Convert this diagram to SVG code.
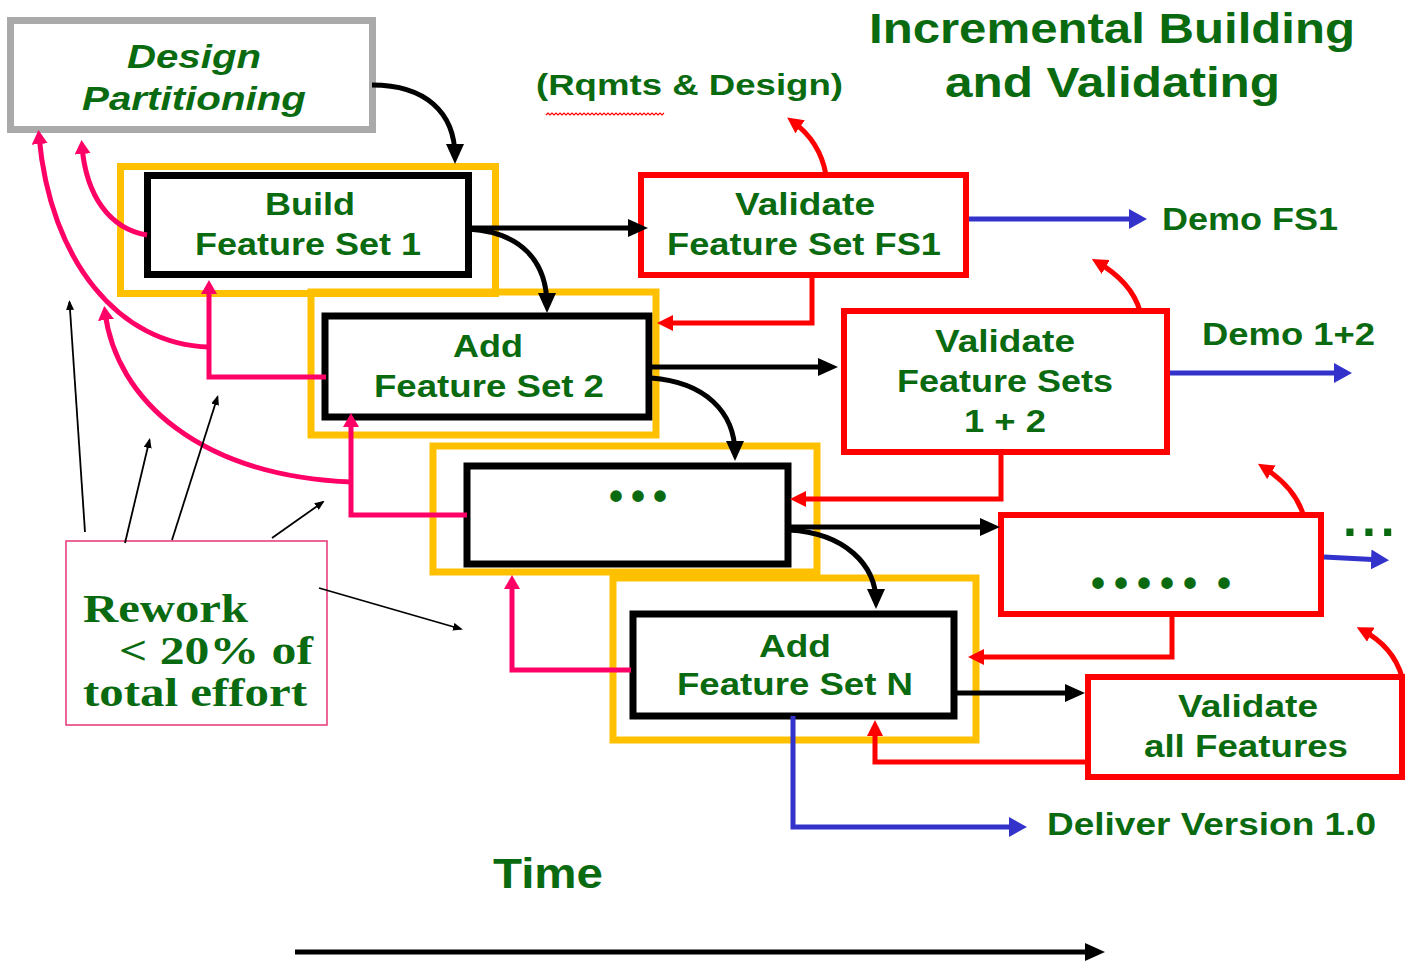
<svg xmlns="http://www.w3.org/2000/svg" width="1405" height="963" viewBox="0 0 1405 963">
  <defs>
    <style>
      .lbl { font-family: "Liberation Sans", Arial, sans-serif; font-weight: bold; fill: #0a6a10; }
      .serif { font-family: "Liberation Serif", "Times New Roman", serif; font-weight: bold; fill: #0a6a10; }
      .build { fill: #fff; stroke: #000; stroke-width: 7; }
      .frame { fill: none; stroke: #FFC000; stroke-width: 7; }
      .check { fill: #fff; stroke: #FF0000; stroke-width: 6; }
      .flow { fill: none; stroke: #000; stroke-width: 5; }
      .fix { fill: none; stroke: #FF0000; stroke-width: 5; }
      .out { fill: none; stroke: #3333CC; stroke-width: 5; }
      .rework { fill: none; stroke: #FF0066; stroke-width: 5; }
      .note { fill: none; stroke: #000; stroke-width: 1.8; }
    </style>
    <marker id="hBlack" markerUnits="userSpaceOnUse" markerWidth="20" markerHeight="18" refX="13" refY="9" orient="auto">
      <path d="M0,0 L20,9 L0,18 z" fill="#000"/>
    </marker>
    <marker id="hRed" markerUnits="userSpaceOnUse" markerWidth="16" markerHeight="16" refX="10" refY="8" orient="auto">
      <path d="M0,0 L16,8 L0,16 z" fill="#FF0000"/>
    </marker>
    <marker id="hBlue" markerUnits="userSpaceOnUse" markerWidth="18" markerHeight="20" refX="11" refY="10" orient="auto">
      <path d="M0,0 L18,10 L0,20 z" fill="#3333CC"/>
    </marker>
    <marker id="hPink" markerUnits="userSpaceOnUse" markerWidth="14" markerHeight="16" refX="8" refY="8" orient="auto">
      <path d="M0,0 L14,8 L0,16 z" fill="#FF0066"/>
    </marker>
    <marker id="hThin" markerUnits="userSpaceOnUse" markerWidth="10" markerHeight="8" refX="8" refY="4" orient="auto">
      <path d="M0,0 L10,4 L0,8 z" fill="#000"/>
    </marker>
  </defs>

  <rect width="1405" height="963" fill="#fff"/>

  <!-- headings -->
  <g id="title">
    <text class="lbl" x="869" y="43" font-size="43" textLength="486" lengthAdjust="spacingAndGlyphs">Incremental Building</text>
    <text class="lbl" x="945" y="97" font-size="43" textLength="335" lengthAdjust="spacingAndGlyphs">and Validating</text>
  </g>
  <g id="rqmts">
    <text class="lbl" x="536" y="95" font-size="29" textLength="307" lengthAdjust="spacingAndGlyphs">(Rqmts &amp; Design)</text>
    <path d="M546,115 l2,-2 l2,2 l2,-2 l2,2 l2,-2 l2,2 l2,-2 l2,2 l2,-2 l2,2 l2,-2 l2,2 l2,-2 l2,2 l2,-2 l2,2 l2,-2 l2,2 l2,-2 l2,2 l2,-2 l2,2 l2,-2 l2,2 l2,-2 l2,2 l2,-2 l2,2 l2,-2 l2,2 l2,-2 l2,2 l2,-2 l2,2 l2,-2 l2,2 l2,-2 l2,2 l2,-2 l2,2 l2,-2 l2,2 l2,-2 l2,2 l2,-2 l2,2 l2,-2 l2,2 l2,-2 l2,2 l2,-2 l2,2 l2,-2 l2,2 l2,-2 l2,2 l2,-2 l2,2 l2,-2" fill="none" stroke="#FF0000" stroke-width="1.2"/>
  </g>

  <!-- design partitioning -->
  <g id="design-partitioning">
    <rect x="10.5" y="20.5" width="362" height="109" fill="#fff" stroke="#AAAAAA" stroke-width="7"/>
    <text class="lbl" x="127" y="68" font-size="33" font-style="italic" textLength="134" lengthAdjust="spacingAndGlyphs">Design</text>
    <text class="lbl" x="82" y="110" font-size="33" font-style="italic" textLength="224" lengthAdjust="spacingAndGlyphs">Partitioning</text>
  </g>

  <!-- build increments -->
  <g id="build-fs1">
    <rect class="build" x="147.5" y="175.5" width="321" height="99"/>
    <rect class="frame" x="120.5" y="166.5" width="375" height="127"/>
    <text class="lbl" x="265" y="215" font-size="31" textLength="90" lengthAdjust="spacingAndGlyphs">Build</text>
    <text class="lbl" x="195" y="255" font-size="31" textLength="226" lengthAdjust="spacingAndGlyphs">Feature Set 1</text>
  </g>
  <g id="add-fs2">
    <rect class="build" x="325" y="316" width="324" height="101"/>
    <rect class="frame" x="311" y="292" width="345" height="143"/>
    <text class="lbl" x="453" y="357" font-size="31" textLength="70" lengthAdjust="spacingAndGlyphs">Add</text>
    <text class="lbl" x="374" y="397" font-size="31" textLength="230" lengthAdjust="spacingAndGlyphs">Feature Set 2</text>
  </g>
  <g id="add-more">
    <rect class="build" x="467" y="466" width="321" height="98"/>
    <rect class="frame" x="433" y="446" width="384" height="126"/>
    <text class="lbl" x="609" y="510" font-size="40" letter-spacing="8">•••</text>
  </g>
  <g id="add-fsn">
    <rect class="build" x="633" y="614" width="321" height="102"/>
    <rect class="frame" x="613" y="578" width="363" height="162"/>
    <text class="lbl" x="759" y="657" font-size="31" textLength="72" lengthAdjust="spacingAndGlyphs">Add</text>
    <text class="lbl" x="677" y="695" font-size="31" textLength="236" lengthAdjust="spacingAndGlyphs">Feature Set N</text>
  </g>

  <!-- validation steps -->
  <g id="validate-fs1">
    <rect class="check" x="641" y="175" width="325" height="100"/>
    <text class="lbl" x="735" y="215" font-size="31" textLength="140" lengthAdjust="spacingAndGlyphs">Validate</text>
    <text class="lbl" x="667" y="255" font-size="31" textLength="274" lengthAdjust="spacingAndGlyphs">Feature Set FS1</text>
  </g>
  <g id="validate-fs12">
    <rect class="check" x="844" y="311" width="323" height="141"/>
    <text class="lbl" x="935" y="352" font-size="31" textLength="140" lengthAdjust="spacingAndGlyphs">Validate</text>
    <text class="lbl" x="897" y="392" font-size="31" textLength="216" lengthAdjust="spacingAndGlyphs">Feature Sets</text>
    <text class="lbl" x="964" y="432" font-size="31" textLength="82" lengthAdjust="spacingAndGlyphs">1 + 2</text>
  </g>
  <g id="validate-more">
    <rect class="check" x="1001" y="515" width="320" height="99"/>
    <text class="lbl" x="1091" y="597" font-size="40" letter-spacing="9">•••••<tspan x="1217">•</tspan></text>
  </g>
  <g id="validate-all">
    <rect class="check" x="1088" y="677" width="314" height="100"/>
    <text class="lbl" x="1178" y="717" font-size="31" textLength="140" lengthAdjust="spacingAndGlyphs">Validate</text>
    <text class="lbl" x="1144" y="757" font-size="31" textLength="204" lengthAdjust="spacingAndGlyphs">all Features</text>
  </g>

  <!-- outputs -->
  <g id="outputs">
    <text class="lbl" x="1162" y="230" font-size="31" textLength="176" lengthAdjust="spacingAndGlyphs">Demo FS1</text>
    <text class="lbl" x="1202" y="345" font-size="31" textLength="173" lengthAdjust="spacingAndGlyphs">Demo 1+2</text>
    <text class="lbl" x="1343" y="536" font-size="50" letter-spacing="5">...</text>
    <text class="lbl" x="1047" y="835" font-size="31" textLength="329" lengthAdjust="spacingAndGlyphs">Deliver Version 1.0</text>
  </g>

  <!-- rework note -->
  <g id="rework-note">
    <rect x="66" y="541" width="261" height="184" fill="#fff" stroke="#E8407F" stroke-width="1.6"/>
    <text class="serif" x="83" y="622" font-size="41" textLength="165" lengthAdjust="spacingAndGlyphs">Rework</text>
    <text class="serif" x="119" y="664" font-size="41" textLength="194" lengthAdjust="spacingAndGlyphs">&lt; 20% of</text>
    <text class="serif" x="83" y="706" font-size="41" textLength="224" lengthAdjust="spacingAndGlyphs">total effort</text>
  </g>

  <!-- time axis -->
  <g id="time-axis">
    <text class="lbl" x="493" y="888" font-size="43" textLength="110" lengthAdjust="spacingAndGlyphs">Time</text>
    <path class="flow" d="M295,952 H1098" marker-end="url(#hBlack)"/>
  </g>

  <!-- connectors -->
  <g id="connectors">
    <!-- forward flow -->
    <path class="flow" d="M372,85 C425,85 455,112 455,157" marker-end="url(#hBlack)"/>
    <path class="flow" d="M468,229 C522,232 547,262 547,306" marker-end="url(#hBlack)"/>
    <path class="flow" d="M651,378 C705,382 735,412 735,454" marker-end="url(#hBlack)"/>
    <path class="flow" d="M789,530 C845,533 876,565 876,602" marker-end="url(#hBlack)"/>
    <path class="flow" d="M468,228 H641" marker-end="url(#hBlack)"/>
    <path class="flow" d="M649,367 H831" marker-end="url(#hBlack)"/>
    <path class="flow" d="M788,527 H993" marker-end="url(#hBlack)"/>
    <path class="flow" d="M954,693 H1078" marker-end="url(#hBlack)"/>

    <!-- validation feedback -->
    <path class="fix" d="M812,275 V323 H663" marker-end="url(#hRed)"/>
    <path class="fix" d="M1001,452 V499 H796" marker-end="url(#hRed)"/>
    <path class="fix" d="M1172,614 V657 H974" marker-end="url(#hRed)"/>
    <path class="fix" d="M1088,762 H875 V726" marker-end="url(#hRed)"/>
    <path class="fix" d="M826,175 C822,152 810,134 792,121" marker-end="url(#hRed)"/>
    <path class="fix" d="M1140,311 C1134,291 1118,274 1097,262" marker-end="url(#hRed)"/>
    <path class="fix" d="M1303,514 C1297,495 1282,479 1263,467" marker-end="url(#hRed)"/>
    <path class="fix" d="M1402,677 C1396,656 1381,640 1362,630" marker-end="url(#hRed)"/>

    <!-- deliverables -->
    <path class="out" d="M969,219 H1140" marker-end="url(#hBlue)"/>
    <path class="out" d="M1170,373 H1345" marker-end="url(#hBlue)"/>
    <path class="out" d="M1324,557 L1382,560" marker-end="url(#hBlue)"/>
    <path class="out" d="M793,716 V827 H1020" marker-end="url(#hBlue)"/>

    <!-- rework loops -->
    <path class="rework" d="M147,235 C110,229 86,196 82,146" marker-end="url(#hPink)"/>
    <path class="rework" d="M209,347 C120,345 50,262 39,136" marker-end="url(#hPink)"/>
    <path class="rework" d="M326,377 H209 V286" marker-end="url(#hPink)"/>
    <path class="rework" d="M352,482 C200,476 116,400 105,312" marker-end="url(#hPink)"/>
    <path class="rework" d="M467,515 H351 V419" marker-end="url(#hPink)"/>
    <path class="rework" d="M631,670 H512 V581" marker-end="url(#hPink)"/>

    <!-- note pointers -->
    <path class="note" d="M85,532 L69.5,302" marker-end="url(#hThin)"/>
    <path class="note" d="M125,543 L149.5,440" marker-end="url(#hThin)"/>
    <path class="note" d="M172,540 L217.5,397" marker-end="url(#hThin)"/>
    <path class="note" d="M272,538 L323,502" marker-end="url(#hThin)"/>
    <path class="note" d="M319,588 L461,629" marker-end="url(#hThin)"/>
  </g>
</svg>
